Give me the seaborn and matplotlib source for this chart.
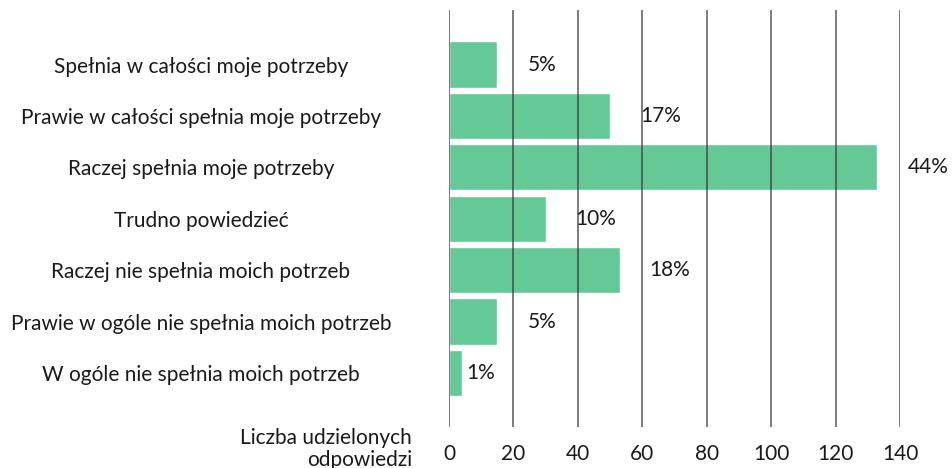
import matplotlib
matplotlib.use("Agg")
import matplotlib.pyplot as plt
import seaborn as sns
import pandas as pd

categories = [
    "Spełnia w całości moje potrzeby",
    "Prawie w całości spełnia moje potrzeby",
    "Raczej spełnia moje potrzeby",
    "Trudno powiedzieć",
    "Raczej nie spełnia moich potrzeb",
    "Prawie w ogóle nie spełnia moich potrzeb",
    "W ogóle nie spełnia moich potrzeb",
]
counts = [15, 50, 133, 30, 53, 15, 4]
percent_labels = ["5%", "17%", "44%", "10%", "18%", "5%", "1%"]
x_ticks = [0, 20, 40, 60, 80, 100, 120, 140]
x_title = "Liczba udzielonych\nodpowiedzi"

sns.set_theme(style="white")
plt.rcParams["font.family"] = ["Lato", "DejaVu Sans"]
TEXT = "#1a1a1a"

df = pd.DataFrame({"cat": categories, "n": counts})

fig = plt.figure(figsize=(9.52, 4.68), dpi=100)
ax = fig.add_axes([449 / 952, 1 - 427 / 468, 451 / 952, 417 / 468])

sns.barplot(data=df, x="n", y="cat", orient="h", color="#64C996",
            saturation=1, width=0.9, ax=ax, zorder=1)

ax.set_xlim(0, 140)
ax.set_ylim(7.05, -1.06)
ax.set_xticks(x_ticks)
ax.set_xticklabels([str(t) for t in x_ticks], fontsize=15, color=TEXT)
ax.tick_params(axis="x", length=0, pad=12)
ax.tick_params(axis="y", length=0, pad=178.6)
for lab in ax.get_yticklabels():
    lab.set_ha("center")
    lab.set_fontsize(15)
    lab.set_color(TEXT)

ax.grid(False)
for t in x_ticks:
    ax.axvline(t, color="#3a3a3a", lw=1.1, alpha=0.85, zorder=3)

for sp in ax.spines.values():
    sp.set_visible(False)

ax.set_ylabel("")
ax.set_xlabel(x_title, fontsize=15, color=TEXT, ha="right", va="center",
              multialignment="right", linespacing=1.1)
ax.xaxis.set_label_coords(-0.082, -0.053)

for i, (v, lab) in enumerate(zip(counts, percent_labels)):
    pad = 3 if v < 5 else 21.6
    ax.annotate(lab, xy=(v, i), xytext=(pad, 0), textcoords="offset points",
                ha="left", va="center", fontsize=15, color=TEXT,
                annotation_clip=False)

fig.savefig("out.png", dpi=100)
